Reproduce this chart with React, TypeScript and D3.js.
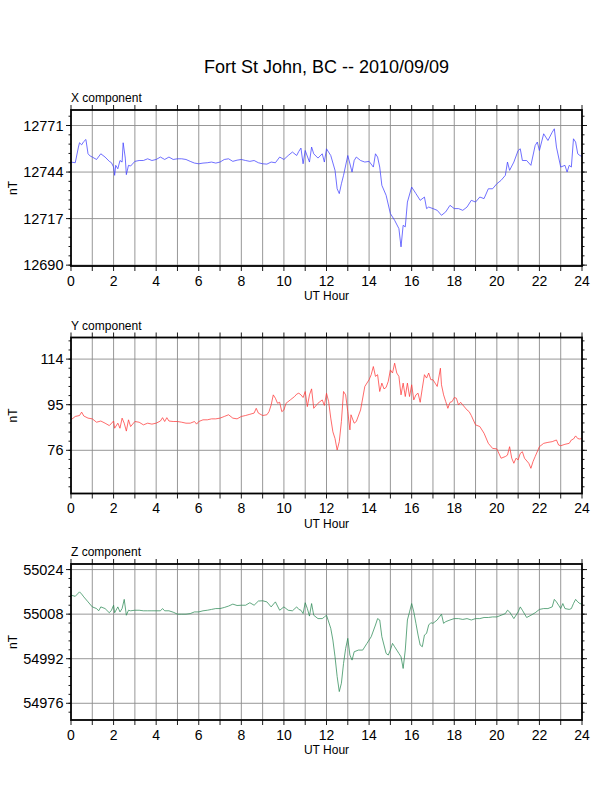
import * as d3 from "d3"

// UT hour axis
const hourLabels = [0, 2, 4, 6, 8, 10, 12, 14, 16, 18, 20, 22, 24]
const hourMarks = [0, 1, 2, 3, 4, 5, 6, 7, 8, 9, 10, 11, 12, 13, 14, 15, 16, 17, 18, 19, 20, 21, 22, 23, 24]

// axis ranges and labelled ticks (nT)
const xDomain = [12689.5, 12780]
const yDomain = [58, 123]
const zDomain = [54970, 55026]
const xTicks = [12690, 12717, 12744, 12771]
const yTicks = [76, 95, 114]
const zTicks = [54976, 54992, 55008, 55024]

// [UT hour, nT]
const xComponent: [number, number][] = [
  [0, 12749.8], [0.2, 12749.4], [0.35, 12758.5], [0.4, 12761.0], [0.5, 12759.8], [0.6, 12761.7], [0.7, 12762.9],
  [0.8, 12754.6], [0.9, 12753.3], [1.0, 12752.7], [1.2, 12751.3], [1.4, 12754.6], [1.6, 12752.7], [1.8, 12750.2],
  [1.9, 12749.4], [2.0, 12746.9], [2.05, 12742.1], [2.1, 12747.9], [2.2, 12745.9], [2.3, 12750.7], [2.4, 12749.8],
  [2.45, 12761.0], [2.55, 12752.1], [2.6, 12742.5], [2.7, 12747.9], [2.8, 12747.5], [3.0, 12750.2], [3.2, 12750.7],
  [3.4, 12750.7], [3.6, 12751.7], [3.8, 12750.7], [4.0, 12751.3], [4.2, 12752.7], [4.4, 12751.3], [4.6, 12752.7],
  [4.8, 12751.3], [5.0, 12751.7], [5.2, 12751.7], [5.4, 12751.3], [5.6, 12750.2], [5.8, 12749.2], [6.0, 12748.8],
  [6.2, 12749.2], [6.4, 12749.4], [6.6, 12749.8], [6.8, 12749.2], [7.0, 12749.8], [7.2, 12751.3], [7.4, 12751.7],
  [7.6, 12750.2], [7.8, 12750.9], [8.0, 12751.3], [8.2, 12750.7], [8.4, 12750.2], [8.6, 12750.7], [8.8, 12749.4],
  [9.0, 12748.8], [9.2, 12748.6], [9.4, 12749.8], [9.6, 12749.4], [9.8, 12752.7], [10.0, 12751.3], [10.2, 12753.6],
  [10.4, 12755.6], [10.6, 12753.6], [10.7, 12756.0], [10.8, 12757.9], [10.9, 12748.8], [11.0, 12756.5],
  [11.2, 12749.8], [11.3, 12758.5], [11.4, 12754.6], [11.6, 12752.1], [11.8, 12754.6], [11.9, 12749.8],
  [12.0, 12757.5], [12.2, 12753.6], [12.4, 12745.0], [12.5, 12734.3], [12.6, 12731.5], [12.7, 12737.2],
  [12.8, 12742.1], [13.0, 12753.6], [13.2, 12744.0], [13.3, 12750.7], [13.4, 12752.7], [13.6, 12750.7],
  [13.8, 12749.8], [14.0, 12750.2], [14.2, 12746.9], [14.3, 12754.6], [14.4, 12752.7], [14.5, 12746.9],
  [14.6, 12736.3], [14.8, 12730.5], [15.0, 12719.9], [15.2, 12716.0], [15.4, 12711.2], [15.5, 12700.6],
  [15.6, 12713.1], [15.7, 12712.2], [15.8, 12726.6], [16.0, 12735.3], [16.2, 12731.5], [16.4, 12727.6],
  [16.6, 12729.5], [16.7, 12722.8], [16.8, 12723.7], [17.0, 12722.8], [17.2, 12721.8], [17.4, 12718.9],
  [17.6, 12720.9], [17.8, 12724.7], [18.0, 12722.8], [18.2, 12722.8], [18.4, 12721.8], [18.6, 12723.7],
  [18.8, 12727.6], [19.0, 12726.6], [19.2, 12729.5], [19.4, 12728.6], [19.6, 12734.3], [19.8, 12734.3],
  [20.0, 12737.2], [20.2, 12739.2], [20.4, 12742.1], [20.5, 12749.8], [20.6, 12745.0], [20.8, 12749.8],
  [21.0, 12756.5], [21.1, 12757.5], [21.2, 12750.7], [21.4, 12750.7], [21.6, 12747.9], [21.8, 12759.4],
  [21.9, 12761.4], [22.0, 12756.5], [22.2, 12766.2], [22.4, 12762.3], [22.6, 12767.1], [22.7, 12769.1],
  [22.8, 12758.5], [23.0, 12746.9], [23.2, 12747.9], [23.3, 12744.0], [23.4, 12747.9], [23.5, 12746.9],
  [23.6, 12763.3], [23.7, 12761.4], [23.8, 12754.6], [23.9, 12753.6], [24.0, 12753.0],
]

const yComponent: [number, number][] = [
  [0, 88.7], [0.2, 90.1], [0.4, 90.5], [0.5, 91.9], [0.6, 90.3], [0.8, 89.4], [1.0, 89.1], [1.2, 87.7], [1.4, 88.2],
  [1.6, 87.3], [1.8, 86.3], [2.0, 88.2], [2.05, 85.2], [2.2, 87.3], [2.3, 85.2], [2.4, 89.4], [2.5, 87.3], [2.6, 84.0],
  [2.7, 88.7], [2.8, 85.9], [3.0, 88.0], [3.2, 87.7], [3.4, 86.6], [3.6, 87.3], [3.8, 86.9], [4.0, 87.3], [4.2, 88.2],
  [4.3, 89.6], [4.4, 88.0], [4.5, 89.6], [4.6, 88.2], [4.8, 88.0], [5.0, 88.0], [5.2, 87.7], [5.4, 87.3], [5.6, 87.3],
  [5.8, 88.0], [5.9, 86.9], [6.0, 88.0], [6.2, 88.7], [6.4, 88.7], [6.6, 89.1], [6.8, 89.1], [7.0, 89.4], [7.2, 90.1],
  [7.4, 90.8], [7.6, 89.4], [7.8, 89.1], [8.0, 90.1], [8.2, 90.5], [8.4, 91.0], [8.6, 91.5], [8.7, 93.5], [8.8, 91.5],
  [9.0, 90.5], [9.2, 90.8], [9.3, 92.1], [9.4, 94.9], [9.5, 99.1], [9.6, 97.7], [9.7, 95.6], [9.8, 96.0], [9.9, 92.1],
  [10.0, 92.8], [10.1, 95.6], [10.3, 97.0], [10.5, 98.4], [10.6, 99.4], [10.7, 99.8], [10.8, 99.1], [10.9, 98.0],
  [11.0, 100.5], [11.1, 94.2], [11.2, 99.1], [11.3, 101.6], [11.4, 93.5], [11.6, 95.6], [11.8, 97.0], [11.9, 94.7],
  [12.0, 99.8], [12.1, 96.3], [12.2, 89.4], [12.3, 83.7], [12.4, 80.9], [12.5, 76.1], [12.6, 79.6], [12.7, 88.0],
  [12.8, 100.5], [12.9, 99.1], [13.0, 92.1], [13.1, 84.5], [13.15, 90.8], [13.3, 87.3], [13.4, 88.0], [13.6, 92.8],
  [13.8, 102.6], [14.0, 105.4], [14.1, 107.5], [14.2, 110.9], [14.3, 106.8], [14.4, 107.5], [14.5, 100.5],
  [14.6, 104.0], [14.7, 101.6], [14.8, 102.2], [14.9, 104.7], [15.0, 109.5], [15.1, 108.2], [15.2, 112.3],
  [15.3, 108.2], [15.4, 106.8], [15.5, 99.1], [15.6, 104.0], [15.7, 98.4], [15.8, 104.0], [15.9, 98.4], [16.0, 103.3],
  [16.1, 97.0], [16.2, 99.1], [16.3, 99.8], [16.4, 96.0], [16.5, 101.9], [16.6, 107.5], [16.7, 106.1], [16.8, 108.2],
  [16.9, 105.4], [17.0, 105.4], [17.1, 104.0], [17.2, 102.6], [17.35, 110.2], [17.4, 103.3], [17.5, 99.1],
  [17.6, 96.3], [17.7, 93.5], [17.8, 96.0], [17.9, 96.3], [18.0, 98.0], [18.1, 97.7], [18.2, 94.9], [18.3, 96.0],
  [18.4, 94.9], [18.6, 92.8], [18.7, 92.1], [18.8, 90.5], [19.0, 86.6], [19.2, 85.9], [19.4, 83.1], [19.6, 78.9],
  [19.8, 76.8], [20.0, 76.6], [20.2, 72.7], [20.4, 73.4], [20.5, 74.0], [20.6, 77.5], [20.7, 72.7], [20.8, 70.6],
  [20.9, 72.7], [21.0, 72.0], [21.1, 74.7], [21.2, 75.4], [21.3, 72.7], [21.5, 70.6], [21.6, 68.5], [21.7, 71.3],
  [21.8, 73.4], [22.0, 77.5], [22.2, 78.9], [22.4, 79.3], [22.6, 79.6], [22.8, 80.3], [22.9, 78.2], [23.0, 77.9],
  [23.2, 78.5], [23.4, 78.9], [23.5, 80.3], [23.6, 80.7], [23.7, 82.0], [23.8, 80.9], [23.9, 80.7], [24.0, 81.0],
]

const zComponent: [number, number][] = [
  [0, 55014.8], [0.2, 55014.4], [0.4, 55016.0], [0.5, 55015.2], [0.6, 55014.2], [0.8, 55012.4], [1.0, 55010.6],
  [1.2, 55010.0], [1.3, 55009.2], [1.4, 55010.6], [1.6, 55010.0], [1.8, 55008.5], [1.9, 55009.4], [2.0, 55011.2],
  [2.05, 55008.5], [2.2, 55010.6], [2.3, 55008.8], [2.4, 55010.0], [2.5, 55013.3], [2.6, 55007.6], [2.7, 55009.4],
  [2.8, 55009.2], [3.0, 55009.4], [3.2, 55009.4], [3.4, 55009.2], [3.6, 55009.2], [3.8, 55009.2], [4.0, 55009.2],
  [4.2, 55009.2], [4.3, 55010.0], [4.4, 55009.2], [4.6, 55009.2], [4.8, 55008.7], [5.0, 55008.0], [5.2, 55008.0],
  [5.4, 55008.0], [5.6, 55008.2], [5.8, 55008.8], [6.0, 55008.8], [6.2, 55009.2], [6.4, 55009.4], [6.6, 55009.7],
  [6.8, 55010.0], [7.0, 55010.0], [7.2, 55010.4], [7.4, 55010.9], [7.6, 55011.6], [7.8, 55011.1], [8.0, 55011.2],
  [8.2, 55011.2], [8.4, 55012.1], [8.6, 55011.2], [8.8, 55012.7], [9.0, 55012.8], [9.2, 55012.4], [9.4, 55010.6],
  [9.6, 55012.4], [9.8, 55009.4], [10.0, 55010.6], [10.2, 55009.4], [10.4, 55009.2], [10.6, 55010.6],
  [10.7, 55009.7], [10.8, 55009.4], [10.9, 55008.2], [11.0, 55012.1], [11.1, 55010.0], [11.2, 55007.3],
  [11.3, 55011.8], [11.4, 55007.6], [11.6, 55006.4], [11.8, 55006.4], [11.9, 55007.0], [12.0, 55007.6],
  [12.2, 55002.9], [12.3, 54998.7], [12.4, 54992.7], [12.5, 54985.6], [12.6, 54980.2], [12.7, 54983.2],
  [12.8, 54990.3], [12.9, 54995.7], [13.0, 54999.3], [13.1, 54993.3], [13.2, 54991.5], [13.3, 54994.5],
  [13.5, 54995.1], [13.7, 54995.1], [13.9, 54997.5], [14.1, 54999.9], [14.3, 55004.1], [14.4, 55006.4],
  [14.5, 55005.9], [14.6, 54999.9], [14.8, 54993.9], [14.9, 54993.3], [15.0, 54995.1], [15.1, 54997.5],
  [15.2, 54996.3], [15.3, 54995.1], [15.4, 54993.9], [15.5, 54992.7], [15.6, 54988.5], [15.7, 54995.1],
  [15.8, 55005.9], [15.9, 55008.8], [16.0, 55011.8], [16.1, 55008.8], [16.2, 55004.7], [16.3, 55000.5],
  [16.4, 54996.9], [16.5, 54996.3], [16.6, 55000.5], [16.7, 55001.1], [16.8, 55004.1], [16.9, 55004.9],
  [17.0, 55004.7], [17.2, 55005.9], [17.4, 55008.0], [17.5, 55004.7], [17.6, 55005.3], [17.8, 55005.9],
  [18.0, 55006.4], [18.2, 55006.4], [18.4, 55006.1], [18.6, 55006.4], [18.8, 55005.9], [19.0, 55006.4],
  [19.2, 55006.4], [19.4, 55006.8], [19.6, 55006.8], [19.8, 55007.0], [20.0, 55007.0], [20.2, 55007.6],
  [20.4, 55008.2], [20.5, 55009.4], [20.6, 55008.8], [20.8, 55006.4], [21.0, 55008.8], [21.1, 55010.6],
  [21.2, 55009.4], [21.4, 55006.8], [21.6, 55007.6], [21.8, 55008.5], [22.0, 55009.7], [22.2, 55010.0],
  [22.4, 55010.0], [22.6, 55010.6], [22.7, 55013.3], [22.8, 55012.4], [22.9, 55011.2], [23.0, 55010.0],
  [23.1, 55011.8], [23.2, 55010.0], [23.4, 55009.7], [23.5, 55010.0], [23.6, 55011.8], [23.7, 55013.3],
  [23.8, 55012.4], [23.9, 55011.8], [24.0, 55011.6],
]

const FONT = "'Liberation Sans', Arial, Helvetica, sans-serif"
const LEFT = 71
const RIGHT = 582
const PANEL_H = 156

interface PanelProps {
  label: string
  data: [number, number][]
  domain: number[]
  ticks: number[]
  color: string
  top: number
}

function Panel({ label, data, domain, ticks, color, top }: PanelProps) {
  const bottom = top + PANEL_H
  const x = d3.scaleLinear().domain([0, 24]).range([LEFT, RIGHT])
  const y = d3.scaleLinear().domain(domain).range([bottom, top])

  // minor ticks: five per labelled interval
  const step = (ticks[1] - ticks[0]) / 5
  const kMin = Math.ceil((domain[0] - ticks[0]) / step - 1e-6)
  const kMax = Math.floor((domain[1] - ticks[0]) / step + 1e-6)
  const minor = d3.range(kMin, kMax + 1).map(k => ticks[0] + k * step)

  const line = d3.line<[number, number]>()
    .x(d => x(d[0]))
    .y(d => y(d[1]))

  const grid = "#8c8c8c"

  return (
    <g>
      <text x={LEFT} y={top - 8} fontSize={12} fontFamily={FONT}>{label}</text>

      {/* grid */}
      {hourMarks.slice(1, -1).map(h => (
        <line key={"vg" + h} x1={x(h)} x2={x(h)} y1={top} y2={bottom} stroke={grid} strokeWidth={0.9} />
      ))}
      {ticks.map(t => (
        <line key={"hg" + t} x1={LEFT} x2={RIGHT} y1={y(t)} y2={y(t)} stroke={grid} strokeWidth={0.9} />
      ))}

      {/* data */}
      <path d={line(data) ?? ""} fill="none" stroke={color} strokeWidth={0.75} strokeLinejoin="round" />

      {/* hour ticks top and bottom */}
      {hourMarks.map(h => (
        <g key={"ht" + h}>
          <line x1={x(h)} x2={x(h)} y1={top} y2={top - 5} stroke="#000" strokeWidth={0.9} />
          <line x1={x(h)} x2={x(h)} y1={bottom} y2={bottom + 5} stroke="#000" strokeWidth={0.9} />
        </g>
      ))}

      {/* value ticks left and right */}
      {minor.map(v => (
        <g key={"mt" + v}>
          <line x1={LEFT} x2={LEFT - 2.5} y1={y(v)} y2={y(v)} stroke="#000" strokeWidth={0.9} />
          <line x1={RIGHT} x2={RIGHT + 2.5} y1={y(v)} y2={y(v)} stroke="#000" strokeWidth={0.9} />
        </g>
      ))}
      {ticks.map(t => (
        <g key={"Mt" + t}>
          <line x1={LEFT} x2={LEFT - 5} y1={y(t)} y2={y(t)} stroke="#000" strokeWidth={0.9} />
          <line x1={RIGHT} x2={RIGHT + 5} y1={y(t)} y2={y(t)} stroke="#000" strokeWidth={0.9} />
          <text x={LEFT - 7.5} y={y(t) + 5} textAnchor="end" fontSize={14.5} fontFamily={FONT}>{t}</text>
        </g>
      ))}

      {/* frame */}
      <rect x={LEFT} y={top} width={RIGHT - LEFT} height={PANEL_H} fill="none" stroke="#000" strokeWidth={1.8} />

      {hourLabels.map(h => (
        <text key={"hl" + h} x={x(h)} y={bottom + 19.5} textAnchor="middle" fontSize={14} fontFamily={FONT}>{h}</text>
      ))}
      <text x={(LEFT + RIGHT) / 2} y={bottom + 34} textAnchor="middle" fontSize={12} fontFamily={FONT}>UT Hour</text>
      <text
        transform={`translate(16.5,${(top + bottom) / 2}) rotate(-90)`}
        textAnchor="middle"
        fontSize={12}
        fontFamily={FONT}
      >nT</text>
    </g>
  )
}

export default function App() {
  return (
    <svg
      width={612}
      height={792}
      style={{ position: "absolute", left: 0, top: 0, background: "#fff" }}
    >
      <rect width={612} height={792} fill="#fff" />
      <text x={326.5} y={73.3} textAnchor="middle" fontSize={18} fontFamily={FONT}>
        Fort St John, BC -- 2010/09/09
      </text>
      <Panel label="X component" data={xComponent} domain={xDomain} ticks={xTicks} color="#4040ff" top={110} />
      <Panel label="Y component" data={yComponent} domain={yDomain} ticks={yTicks} color="#ff3a3a" top={337.5} />
      <Panel label="Z component" data={zComponent} domain={zDomain} ticks={zTicks} color="#2e8b57" top={564} />
    </svg>
  )
}
